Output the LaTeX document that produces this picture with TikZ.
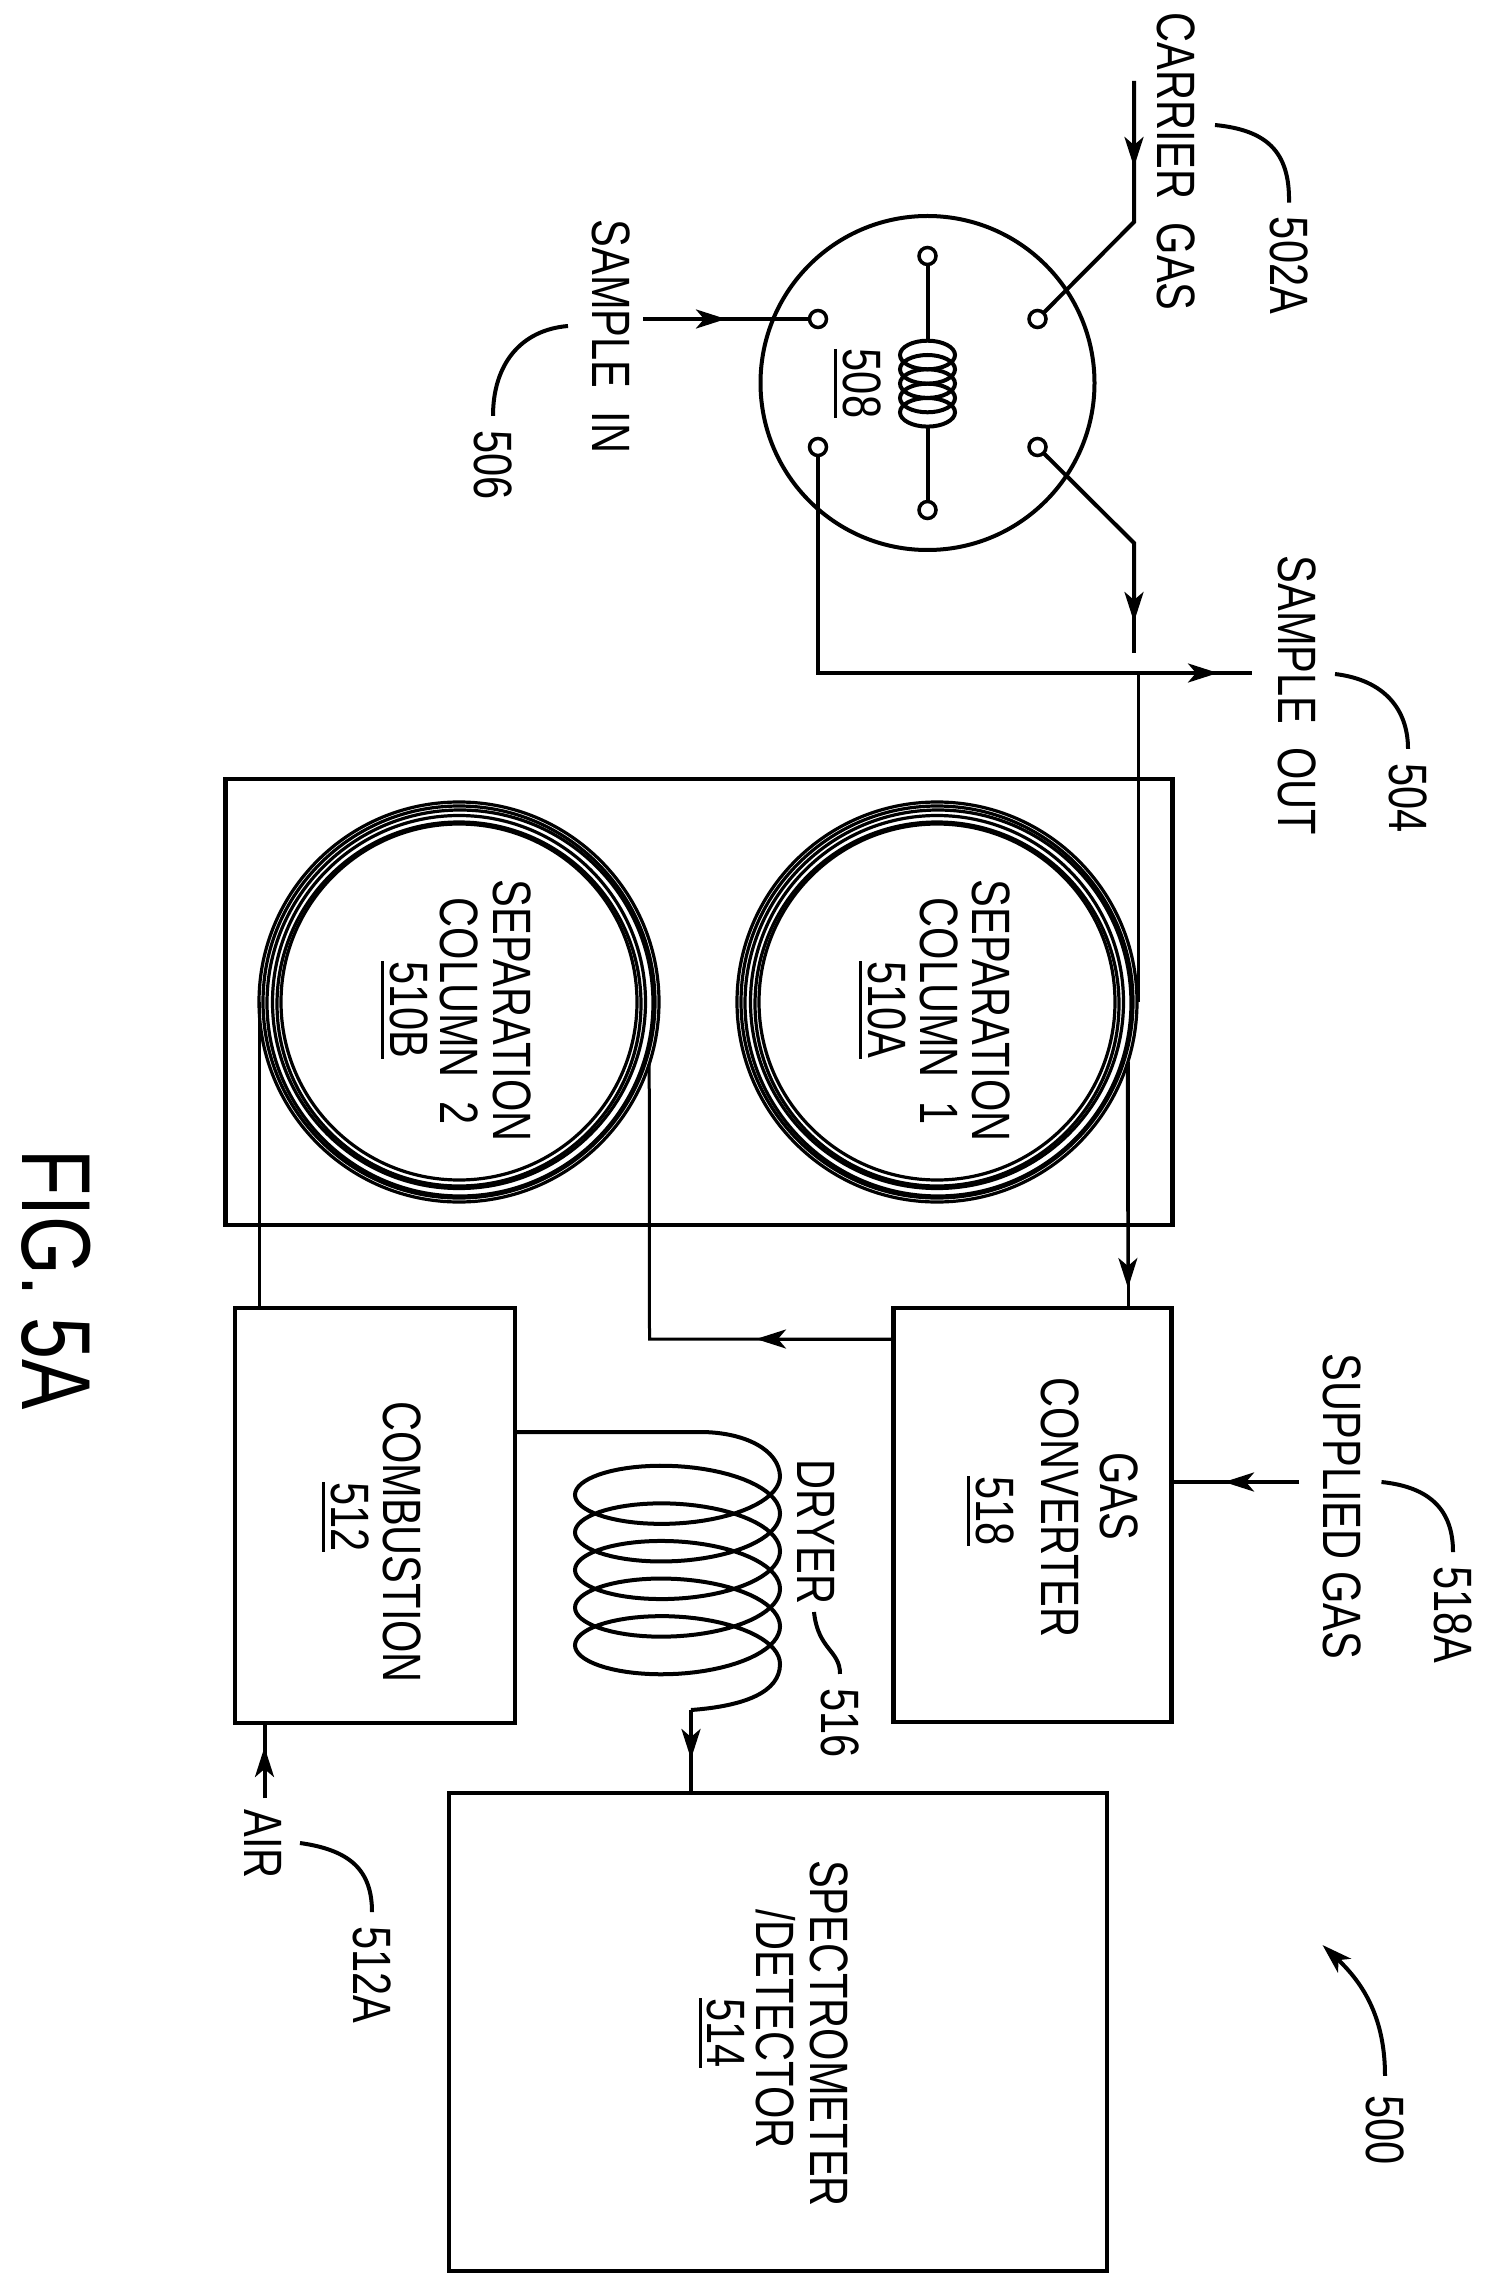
\documentclass[tikz,border=0pt]{standalone}
\usepackage{fontspec}
\setmainfont{Liberation Sans}[FakeStretch=0.77]
\usetikzlibrary{arrows.meta}

\newcommand{\partno}[1]{\setbox0=\hbox{#1}\rlap{\smash{\rule[-4.5pt]{\wd0}{1.5pt}}}\box0}

\tikzset{
  pipe/.style={line width=2pt},
  thinpipe/.style={line width=1.5pt},
  flow/.style={pipe, -{Stealth[length=15pt, width=9.5pt, inset=4pt]}},
  thinflow/.style={thinpipe, -{Stealth[length=15pt, width=9.5pt, inset=4pt]}},
  unitbox/.style={rectangle, draw, line width=2.4pt, inner sep=0pt, outer sep=0pt},
  port/.style={circle, draw, line width=1.75pt, minimum size=8.5pt, inner sep=0pt, outer sep=0pt},
  ring/.style={line width=1.6pt},
  lbl/.style={rotate=-90, inner sep=0pt, font=\fontsize{27}{27}\selectfont},
  reflbl/.style={lbl, inner sep=7pt},
}

\begin{document}
\begin{tikzpicture}[x=0.5pt, y=-0.5pt]
    \useasboundingbox (0, 0) rectangle (1493, 2294);

    % valve
    \node[circle, draw, line width=2pt, minimum size=167pt, inner sep=0pt, outer sep=0pt] (valve) at (927.5, 383) {};
    \node[port] (portA) at (818, 319) {};
    \node[port] (portB) at (1037.5, 319) {};
    \node[port] (portC) at (818, 447) {};
    \node[port] (portD) at (1037.5, 447) {};
    \node[port] (portE) at (927.5, 256) {};
    \node[port] (portF) at (927.5, 510) {};
    \coordinate (loopin) at (927.5, 340);
    \coordinate (loopout) at (927.5, 426);
    \foreach \cy in {355, 369.3, 383.6, 398, 412.3}
      \draw[pipe] (927.5, \cy) ellipse (27.5 and 14.3);
    \draw[pipe] (portE) -- (loopin);
    \draw[pipe] (loopout) -- (portF);

    % columns
    \node[unitbox, minimum width=473.5pt, minimum height=223pt] (oven) at (699, 1002) {};
    \node[circle, draw, ring, minimum size=200pt, inner sep=0pt, outer sep=0pt] (colA) at (937, 1002) {};
    \node[circle, draw, ring, minimum size=200pt, inner sep=0pt, outer sep=0pt] (colB) at (459, 1002) {};
    \foreach \cx in {937, 459} {
      \draw[ring] (\cx, 1002) circle (196);
      \draw[ring] (\cx+1, 1003) circle (193);
      \draw[ring] (\cx, 1002) circle (186.5);
      \draw[ring] (\cx, 1004) circle (182);
      \draw[ring] (\cx, 1002) circle (178);
    }

    % boxes
    \node[unitbox, minimum width=139pt, minimum height=207pt] (converter) at (1032.5, 1515) {};
    \node[unitbox, minimum width=140pt, minimum height=207.5pt] (combustion) at (375, 1515.5) {};
    \node[unitbox, minimum width=329pt, minimum height=239pt] (spectrometer) at (778, 2032) {};

    % labels
    \node[lbl] (carrier) at (1176, 161.5) {CARRIER~~GAS};
    \node[lbl] (samplein) at (611, 336.5) {SAMPLE~~IN};
    \node[lbl] (sampleout) at (1297, 695.5) {SAMPLE~~OUT};
    \node[lbl] (supplied) at (1342, 1506.5) {SUPPLIED GAS};
    \node[lbl] (air) at (263, 1844) {AIR};
    \node[lbl] (dryer) at (816, 1532) {DRYER};
    \node[lbl] (n508) at (862, 383.5) {\partno{508}};
    \node[lbl] (sepA) at (991, 1010.5) {SEPARATION};
    \node[lbl] (colnameA) at (939, 1011) {COLUMN~~1};
    \node[lbl] (n510A) at (887, 1010) {\partno{510A}};
    \node[lbl] (sepB) at (512, 1010.5) {SEPARATION};
    \node[lbl] (colnameB) at (459, 1011) {COLUMN~~2};
    \node[lbl] (n510B) at (409, 1010) {\partno{510B}};
    \node[lbl] (gas) at (1119, 1496) {GAS};
    \node[lbl] (conv) at (1060, 1507.5) {CONVERTER};
    \node[lbl] (n518) at (995, 1511) {\partno{518}};
    \node[lbl] (comb) at (402, 1542) {COMBUSTION};
    \node[lbl] (n512) at (350, 1517) {\partno{512}};
    \node[lbl] (spec) at (829, 2033.5) {SPECTROMETER};
    \node[lbl] (det) at (776, 2029) {/DETECTOR};
    \node[lbl] (n514) at (726, 2033) {\partno{514}};
    \node[lbl, font=\fontsize{49}{49}\selectfont] (fig) at (56, 1279.5) {FIG. 5A};

    % reference numbers
    \node[reflbl] (r502A) at (1289, 265.5) {502A};
    \node[reflbl] (r506) at (493, 465) {506};
    \node[reflbl] (r504) at (1408, 798) {504};
    \node[reflbl] (r518A) at (1453, 1615) {518A};
    \node[reflbl] (r516) at (840, 1723) {516};
    \node[reflbl] (r512A) at (372, 1975) {512A};
    \node[reflbl, inner sep=9.5pt] (r500) at (1385, 2130) {500};

    % free ends and arrow tips
    \coordinate (carrierin) at (1134, 81);
    \coordinate (carriertip) at (1134, 167);
    \coordinate (carrierbend) at (1134, 222);
    \coordinate (ventbend) at (1134, 543);
    \coordinate (venttip) at (1134, 622);
    \coordinate (ventend) at (1134, 653);
    \coordinate (samplestart) at (643, 319);
    \coordinate (sampletip) at (726, 319);
    \coordinate (outbend) at (818, 673);
    \coordinate (outjoin) at (1138, 673);
    \coordinate (outtip) at (1218, 673);
    \coordinate (outend) at (1252, 673);
    \coordinate (convtip) at (1128, 1288);
    \coordinate (backbend) at (649.5, 1339);
    \coordinate (backtip) at (756, 1339);
    \coordinate (suppliedin) at (1299, 1482);
    \coordinate (suppliedtip) at (1224, 1482);
    \coordinate (airin) at (264.5, 1798);
    \coordinate (airtip) at (264.5, 1747);
    \coordinate (dryerin) at (515, 1432);
    \coordinate (dryerend) at (780, 1664);
    \coordinate (dryerbend) at (691, 1710);
    \coordinate (dryertip) at (691, 1759);
    \coordinate (tip500) at (1322.5, 1945);

    % sample lines
    \draw[flow] (carrierin) -- (carriertip);
    \draw[pipe] (carrierin) -- (carrierbend) -- (portB);
    \draw[flow] (samplestart) -- (sampletip);
    \draw[pipe] (samplestart) -- (portA);
    \draw[flow] (portD) -- (ventbend) -- (venttip);
    \draw[pipe] (ventbend) -- (ventend);
    \draw[flow] (portC) -- (outbend) -- (outtip);
    \draw[pipe] (outbend) -- (outend);

    % column lines
    \draw[thinpipe] (outjoin) -- (outjoin |- colA.east);
    \draw[thinflow] (colA.-18) -- (convtip);
    \draw[thinpipe] (colA.-18) -- (colA.-18 -| convtip) -- (convtip |- converter.north);
    \draw[thinflow] (converter.west |- backtip) -- (backtip);
    \draw[thinpipe] (converter.west |- backtip) -- (backbend) -- (colB.-18);
    \draw[thinpipe] (colB.west) -- (colB.west |- combustion.north);

    % supply and air
    \draw[flow] (suppliedin) -- (suppliedtip);
    \draw[pipe] (suppliedin) -- (suppliedtip -| converter.east);
    \draw[flow] (airin) -- (airtip);
    \draw[pipe] (airin) -- (airtip |- combustion.south);

    % dryer
    \draw[pipe] (dryerin) -- (700, 1432) .. controls (745, 1432) and (779, 1450) .. (780, 1476)
      -- plot[domain=0:1800, samples=361] ({677.5+102.5*cos(\x)}, {1476+37.6*(\x/360)+38*sin(\x)});
    \draw[pipe] (dryerend) .. controls (780, 1692) and (745, 1706) .. (dryerbend);
    \draw[flow] (dryerbend) -- (dryertip);
    \draw[pipe] (dryerbend) -- (dryertip |- spectrometer.north);

    % leaders
    \draw[pipe] (1215, 125) .. controls (1265, 130) and (1290, 150) .. (r502A.west);
    \draw[pipe] (568, 326) .. controls (520, 330) and (493, 365) .. (r506.west);
    \draw[pipe] (1335, 674) .. controls (1385, 680) and (1408, 710) .. (r504.west);
    \draw[pipe] (1381.5, 1482) .. controls (1430, 1487) and (1453, 1510) .. (r518A.west);
    \draw[pipe] (814, 1612) .. controls (818, 1650) and (840, 1650) .. (r516.west);
    \draw[pipe] (300, 1843) .. controls (350, 1850) and (372, 1870) .. (r512A.west);
    \draw[flow] (r500.west) .. controls (1385, 2020) and (1365, 1985) .. (tip500);
\end{tikzpicture}
\end{document}
